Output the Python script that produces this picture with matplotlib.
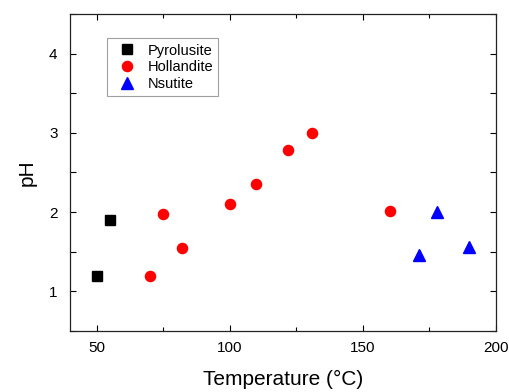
import matplotlib
matplotlib.use("Agg")
import matplotlib.pyplot as plt
from matplotlib.ticker import MultipleLocator

plt.rcParams['font.family'] = ['Liberation Sans', 'DejaVu Sans']

# Temperature (°C) and pH for each MnO2 polymorph
pyro_T = [50, 55]
pyro_pH = [1.2, 1.9]

holl_T = [70, 75, 82, 100, 110, 122, 131, 160]
holl_pH = [1.2, 1.98, 1.55, 2.1, 2.35, 2.78, 3.0, 2.01]

nsut_T = [171, 178, 190]
nsut_pH = [1.46, 2.0, 1.56]

fig = plt.figure(figsize=(5.09, 3.92), dpi=100)
ax = fig.add_axes([0.1375, 0.1556, 0.837, 0.8087])

ax.plot(pyro_T, pyro_pH, linestyle='none', marker='s', markersize=6.5,
        color='black', label='Pyrolusite')
ax.plot(holl_T, holl_pH, linestyle='none', marker='o', markersize=7.3,
        color='#ff0000', label='Hollandite')
ax.plot(nsut_T, nsut_pH, linestyle='none', marker='^', markersize=8,
        color='#0000ff', label='Nsutite')

ax.set_xlim(40, 200)
ax.set_ylim(0.5, 4.5)
ax.xaxis.set_major_locator(MultipleLocator(50))
ax.xaxis.set_minor_locator(MultipleLocator(25))
ax.yaxis.set_major_locator(MultipleLocator(1))
ax.yaxis.set_minor_locator(MultipleLocator(0.5))

ax.tick_params(which='both', direction='in', top=True, right=True,
               labelsize=11, width=0.8)
ax.tick_params(axis='x', which='major', pad=7)
ax.tick_params(axis='y', which='major', pad=9)
ax.tick_params(which='major', length=4.5)
ax.tick_params(axis='x', which='minor', length=3)
ax.tick_params(axis='y', which='minor', length=4.5)
for s in ax.spines.values():
    s.set_linewidth(0.9)
    s.set_color('#222222')

ax.set_xlabel('Temperature (°C)', fontsize=15, labelpad=11)
ax.set_ylabel('pH', fontsize=15, labelpad=9)

leg = ax.legend(loc='upper left', bbox_to_anchor=(0.088, 0.923),
                fontsize=10.5, frameon=True, fancybox=False,
                edgecolor='#888888', handletextpad=0.4, handlelength=2.0,
                borderpad=0.35, labelspacing=0.2, borderaxespad=0)
leg.get_frame().set_linewidth(0.8)

fig.savefig('out.png', dpi=100)
